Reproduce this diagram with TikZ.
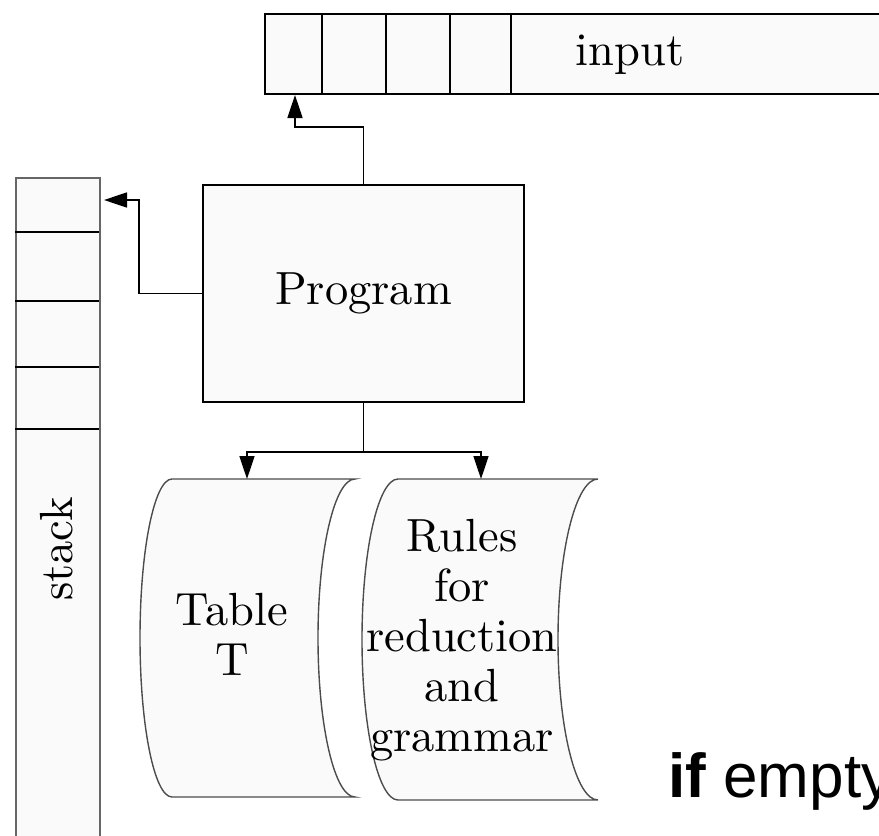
\documentclass[tikz,border=0pt]{standalone}
\usepackage{fontspec}
\newfontfamily\arialfont{Liberation Sans}
\usetikzlibrary{arrows.meta}
\begin{document}
\begin{tikzpicture}[x=1pt,y=-1pt,
  line/.style={line width=1.8pt, draw=black},
  arr/.style={line width=1.7pt, draw=black, -{Triangle[length=23pt,width=15pt]}},
  lbl/.style={font=\fontsize{10}{10.75}\selectfont, scale=4.65, inner sep=0pt, align=center},
  box/.style={draw=black, line width=1.8pt, fill=gray!4},
  stackbox/.style={draw=black!60, line width=1.8pt, fill=gray!4},
  sheet/.style={draw=black!70, line width=1.4pt, fill=gray!4}]
\useasboundingbox (0,0) rectangle (879,836);
\clip (0,0) rectangle (879,836);

% input tape
\node[box, anchor=north west, minimum width=640pt, minimum height=80pt, inner sep=0pt] (input) at (264,13) {};
\foreach \x in {322,386,450,511} \draw[line] (\x,13) -- (\x,93);
\node[lbl] (inputlbl) at (630,55) {input};

% stack
\node[stackbox, anchor=north west, minimum width=84pt, minimum height=700pt, inner sep=0pt] (stack) at (15,177) {};
\foreach \y in {232,301,367,429} \draw[line] (15,\y) -- (99,\y);
\node[lbl, rotate=90] (stacklbl) at (57,549) {stack};

% program
\node[box, minimum width=321pt, minimum height=217pt, inner sep=0pt] (prog) at (363.5,293.5) {};
\node[lbl] (proglbl) at (prog.center) {Program};

% sheets
\draw[sheet] (172,479) -- (355,479)
  .. controls (334.6,479) and (318,550.2) .. (318,638)
  .. controls (318,725.8) and (334.6,797) .. (355,797)
  -- (172,797)
  .. controls (154.3,797) and (140,725.8) .. (140,638)
  .. controls (140,550.2) and (154.3,479) .. (172,479) -- cycle;
\draw[sheet] (398,479) -- (598,479)
  .. controls (575.9,479) and (558,550.9) .. (558,639.5)
  .. controls (558,728.1) and (575.9,800) .. (598,800)
  -- (398,800)
  .. controls (378.1,800) and (362,728.1) .. (362,639.5)
  .. controls (362,550.9) and (378.1,479) .. (398,479) -- cycle;
\node[lbl] (table) at (232,634) {Table\\T};
\node[lbl] (rules) at (462,640) {Rules\\for\\reduction\\and\\grammar};

% connectors
\coordinate (inhead) at (295,95);
\coordinate (sthead) at (104,200);
\coordinate (ta) at (247,479);
\coordinate (ra) at (481,479);
\draw[arr] (prog.north) -- ++(0,-57) -| (inhead);
\draw[arr] (prog.west) -- ++(-63,0) |- (sthead);
\draw[line] (prog.south) -- ++(0,49) coordinate (split);
\draw[arr] (split) -| (ta);
\draw[arr] (split) -| (ra);

% caption fragment
\node[anchor=base west, inner sep=0pt, font=\arialfont\fontsize{62}{66}\selectfont] (ifempty) at (668,797) {\textbf{if} empty};
\end{tikzpicture}
\end{document}
